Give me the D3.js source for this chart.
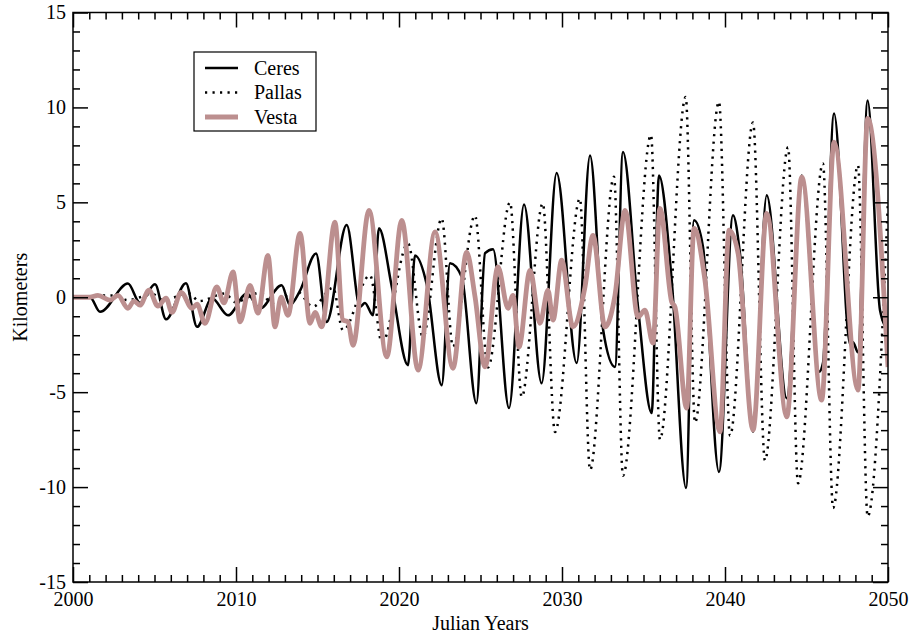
<!DOCTYPE html>
<html>
<head>
<meta charset="utf-8">
<script src="https://cdn.jsdelivr.net/npm/d3@7"></script>
<style>
  body { margin: 0; background: #fff; }
  svg { display: block; }
  text { font-family: "Liberation Serif", "Times New Roman", serif; fill: #000; }
</style>
</head>
<body>
<svg id="chart" width="913" height="637"></svg>
<script>
// series: [julian year, km] (extrema + shoulders)
const ceres = [
  [2000.00, 0], [2001.04, 0], [2001.66, -0.77], [2003.37, 0.72], [2004.11, -0.3],
  [2005.03, 0.68], [2005.71, -1.16], [2006.93, 0.74], [2007.61, -1.56], [2008.53, -0.05],
  [2009.51, -0.95], [2010.67, 0.2], [2011.47, -0.6], [2012.80, 0.63], [2013.31, -0.4],
  [2013.93, 0.35], [2014.91, 2.3], [2015.56, -1.3], [2016.79, 3.8], [2017.61, -0.5],
  [2017.91, -0.3], [2018.40, -0.95], [2018.77, 3.63], [2019.57, 0.5], [2020.55, -3.58],
  [2020.98, 2.2], [2021.72, 0.6], [2022.62, -4.63], [2023.13, 1.79], [2023.85, 1.07],
  [2024.75, -5.58], [2025.28, 2.32], [2025.77, 2.53], [2026.75, -5.84], [2027.67, 4.89],
  [2028.75, -4.53], [2029.67, 6.54], [2030.90, -3.47], [2031.72, 7.47], [2032.52, -1.7],
  [2033.25, -3.67], [2033.74, 7.65], [2034.66, -0.5], [2035.50, -6.1], [2035.95, 6.42],
  [2036.73, 0.9], [2037.61, -10.05], [2038.10, 4.05], [2038.65, 2.65], [2039.63, -9.2],
  [2040.49, 4.32], [2040.92, 2.3], [2041.72, -7.09], [2042.56, 5.37], [2043.79, -5.32],
  [2044.71, 6.42], [2045.77, -3.93], [2046.01, -3.47], [2046.69, 9.68], [2047.67, -2.47],
  [2047.85, -2.37], [2048.16, -2.9], [2048.75, 10.37], [2049.51, -0.68], [2050.00, -1.74]
];
const pallas = [
  [2000.00, 0], [2002.70, 0.1], [2003.31, -0.15], [2004.91, 0.15], [2005.52, -0.15],
  [2007.12, 0.2], [2007.73, -0.2], [2009.33, 0.2], [2009.94, -0.25], [2011.53, 0.25],
  [2012.15, -0.3], [2013.74, 0.3], [2014.72, -0.5], [2015.95, 0.5], [2016.56, -1.74],
  [2018.22, 1.16], [2018.96, -2.4], [2020.55, 2.84], [2021.47, -2.1], [2022.62, 4.15],
  [2023.31, -2.6], [2024.66, 4.3], [2025.46, -3.7], [2026.81, 5.0], [2027.53, -5.25],
  [2028.82, 4.95], [2029.57, -7.1], [2031.10, 5.2], [2031.72, -9.1], [2033.19, 6.35],
  [2033.74, -9.4], [2035.46, 8.55], [2036.01, -7.5], [2037.59, 10.55], [2038.16, -6.6],
  [2039.63, 10.3], [2040.31, -7.3], [2041.72, 9.2], [2042.45, -8.6], [2043.87, 7.9],
  [2044.48, -9.8], [2046.01, 7.05], [2046.63, -11.1], [2048.16, 6.95], [2048.75, -11.55],
  [2050.00, 5.1]
];
const vesta = [
  [2000.00, 0], [2001.04, 0], [2001.53, 0.1], [2002.27, -0.15], [2002.76, 0.1],
  [2003.37, -0.58], [2003.74, -0.2], [2004.11, -0.42], [2004.66, 0.37], [2005.21, -0.47],
  [2005.71, -0.05], [2006.07, -0.8], [2006.63, 0.26], [2007.30, -0.58], [2007.61, -0.37],
  [2008.10, -1.37], [2008.82, 0.54], [2009.26, -0.3], [2009.82, 1.33], [2010.25, -1.3],
  [2010.86, 0.63], [2011.35, -0.84], [2011.96, 2.2], [2012.39, -1.56], [2012.76, 0],
  [2013.19, -0.95], [2013.93, 3.37], [2014.54, -1.37], [2014.85, -0.8], [2015.26, -1.56],
  [2016.07, 3.96], [2016.56, -1.2], [2016.87, -1.3], [2017.18, -2.53], [2018.16, 4.58],
  [2019.25, -3.14], [2020.17, 4.05], [2021.17, -3.84], [2022.21, 3.44], [2023.31, -3.74],
  [2024.15, 2.37], [2024.66, 0.05], [2025.28, -3.67], [2026.07, 1.6], [2026.69, -0.58],
  [2026.99, 0.1], [2027.36, -2.62], [2028.04, 1.42], [2028.65, -1.37], [2029.14, 0.37],
  [2029.45, -1.2], [2029.98, 1.95], [2030.67, -1.56], [2031.41, 0.54], [2031.90, 3.26],
  [2032.64, -1.56], [2033.25, 0.1], [2033.87, 4.58], [2034.66, -1.04], [2035.09, -0.68],
  [2035.58, -2.42], [2036.01, 4.68], [2036.73, -0.25], [2036.93, -0.51], [2037.65, -5.84],
  [2038.10, 3.63], [2038.77, 0.9], [2039.69, -7.09], [2040.25, 3.53], [2040.80, 2.32],
  [2041.72, -7.0], [2042.56, 4.42], [2043.79, -6.3], [2044.71, 6.33], [2045.93, -5.42],
  [2046.69, 8.17], [2048.16, -4.89], [2048.75, 9.42], [2050.00, -3.68]
];
const seriesNames = ['Ceres', 'Pallas', 'Vesta'];
const xMajor = [2000, 2010, 2020, 2030, 2040, 2050];
const yMajor = [-15, -10, -5, 0, 5, 10, 15];

const W = 913, H = 637;
const m = { left: 73, right: 25, top: 12.5, bottom: 55 };
const svg = d3.select('#chart');

const x = d3.scaleLinear().domain([2000, 2050]).range([m.left, W - m.right]);
const y = d3.scaleLinear().domain([-15, 15]).range([H - m.bottom, m.top]);

const xMinor = d3.range(2000, 2051, 1).filter(function (v) { return v % 10 !== 0; });
const yMinor = d3.range(-15, 16, 1).filter(function (v) { return v % 5 !== 0; });
const plain = function (v) { return String(v); }; // hyphen minus, like the original

const styles = {
  Ceres:  { color: '#000', width: 2.5, dash: null },
  Pallas: { color: '#000', width: 2.5, dash: '2.2,5.3' },
  Vesta:  { color: '#bc8f8f', width: 4.8, dash: null }
};

// clip
svg.append('defs').append('clipPath').attr('id', 'plot-clip')
  .append('rect').attr('x', m.left).attr('y', m.top)
  .attr('width', W - m.left - m.right).attr('height', H - m.top - m.bottom);

const line = d3.line()
  .x(function (d) { return x(d[0]); })
  .y(function (d) { return y(d[1]); })
  .curve(d3.curveMonotoneX);

const data = { Ceres: ceres, Pallas: pallas, Vesta: vesta };
const gLines = svg.append('g').attr('clip-path', 'url(#plot-clip)');
seriesNames.forEach(function (name) {
  const s = styles[name];
  gLines.append('path').datum(data[name])
    .attr('d', line).attr('fill', 'none')
    .attr('stroke', s.color).attr('stroke-width', s.width)
    .attr('stroke-linejoin', 'round')
    .attr('stroke-dasharray', s.dash);
});

// axes, ticks inward on all four sides
function axisStyle(g) {
  g.select('.domain').remove();
  g.selectAll('line').attr('stroke', '#000').attr('stroke-width', 1.5);
  g.selectAll('text').attr('font-size', 20).style('font-family', '"Liberation Serif", serif');
}
const bottomY = H - m.bottom, rightX = W - m.right;

svg.append('g').attr('transform', 'translate(0,' + bottomY + ')')
  .call(d3.axisBottom(x).tickValues(xMajor).tickSize(-15).tickPadding(10).tickFormat(plain))
  .call(axisStyle);
svg.append('g').attr('transform', 'translate(0,' + bottomY + ')')
  .call(d3.axisBottom(x).tickValues(xMinor).tickSize(-7).tickFormat(''))
  .call(axisStyle);
svg.append('g').attr('transform', 'translate(0,' + m.top + ')')
  .call(d3.axisTop(x).tickValues(xMajor).tickSize(-15).tickFormat(''))
  .call(axisStyle);
svg.append('g').attr('transform', 'translate(0,' + m.top + ')')
  .call(d3.axisTop(x).tickValues(xMinor).tickSize(-7).tickFormat(''))
  .call(axisStyle);

svg.append('g').attr('transform', 'translate(' + m.left + ',0)')
  .call(d3.axisLeft(y).tickValues(yMajor).tickSize(-15).tickPadding(7).tickFormat(plain))
  .call(axisStyle);
svg.append('g').attr('transform', 'translate(' + m.left + ',0)')
  .call(d3.axisLeft(y).tickValues(yMinor).tickSize(-7).tickFormat(''))
  .call(axisStyle);
svg.append('g').attr('transform', 'translate(' + rightX + ',0)')
  .call(d3.axisRight(y).tickValues(yMajor).tickSize(-15).tickFormat(''))
  .call(axisStyle);
svg.append('g').attr('transform', 'translate(' + rightX + ',0)')
  .call(d3.axisRight(y).tickValues(yMinor).tickSize(-7).tickFormat(''))
  .call(axisStyle);

// frame
svg.append('rect').attr('x', m.left).attr('y', m.top)
  .attr('width', rightX - m.left).attr('height', bottomY - m.top)
  .attr('fill', 'none').attr('stroke', '#000').attr('stroke-width', 1.5);

// axis titles
svg.append('text').attr('x', (m.left + rightX) / 2).attr('y', 630)
  .attr('text-anchor', 'middle').attr('font-size', 20).text('Julian Years');
svg.append('text').attr('transform', 'translate(27,' + y(0) + ') rotate(-90)')
  .attr('text-anchor', 'middle').attr('font-size', 20).text('Kilometers');

// legend
const lg = svg.append('g').attr('transform', 'translate(194,52)');
lg.append('rect').attr('width', 122).attr('height', 79)
  .attr('fill', '#fff').attr('stroke', '#000').attr('stroke-width', 1.2);
seriesNames.forEach(function (name, i) {
  const s = styles[name], yy = 16 + i * 24.5;
  lg.append('line').attr('x1', 11).attr('x2', 44).attr('y1', yy).attr('y2', yy)
    .attr('stroke', s.color).attr('stroke-width', s.width)
    .attr('stroke-dasharray', s.dash);
  lg.append('text').attr('x', 60).attr('y', yy + 6.5).attr('font-size', 20).text(name);
});
</script>
</body>
</html>
